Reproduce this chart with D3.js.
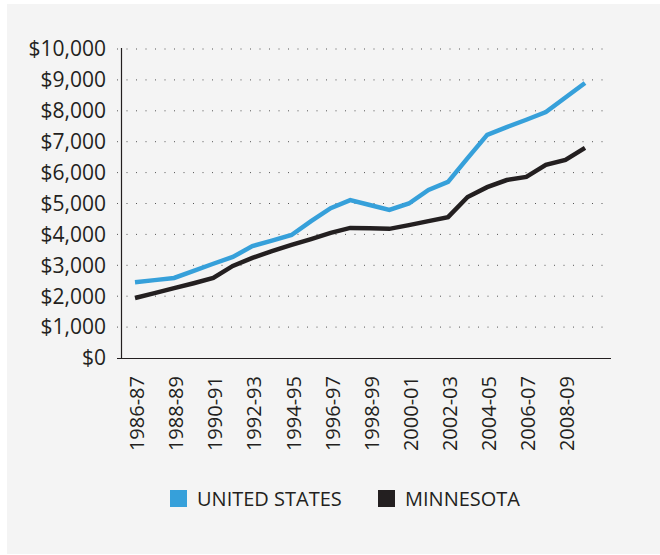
<!DOCTYPE html>
<html>
<head>
<meta charset="utf-8">
<script src="https://cdn.jsdelivr.net/npm/d3@7"></script>
<style>
  body { margin: 0; background: #fff; }
  text { font-family: "Open Sans", "DejaVu Sans", sans-serif; fill: #231f20; }
  .grid { stroke: #555; stroke-width: 1; stroke-dasharray: 1,8.5; }
  .axis-line { stroke: #231f20; stroke-width: 1.2; }
  .line { fill: none; stroke-width: 4.5; stroke-linejoin: miter; }
</style>
</head>
<body>
<script>

// school years on the x axis
var years = ["1986-87", "1987-88", "1988-89", "1989-90", "1990-91", "1991-92",
             "1992-93", "1993-94", "1994-95", "1995-96", "1996-97", "1997-98",
             "1998-99", "1999-00", "2000-01", "2001-02", "2002-03", "2003-04",
             "2004-05", "2005-06", "2006-07", "2007-08", "2008-09", "2009-10"];

// values (dollars)
var us_values = [2450, 2520, 2590, 2820, 3050, 3270, 3620, 3800, 3980, 4430, 4850, 5110,
                 4950, 4790, 5000, 5440, 5700, 6470, 7220, 7470, 7710, 7960, 8430, 8900];
var mn_values = [1940, 2100, 2260, 2420, 2590, 2980, 3240, 3460, 3660, 3850, 4050, 4210,
                 4200, 4180, 4300, 4430, 4560, 5210, 5530, 5760, 5860, 6250, 6410, 6800];

var y_ticks = [0, 1000, 2000, 3000, 4000, 5000, 6000, 7000, 8000, 9000, 10000];
var x_labels = ["1986-87", "1988-89", "1990-91", "1992-93", "1994-95", "1996-97",
                "1998-99", "2000-01", "2002-03", "2004-05", "2006-07", "2008-09"];

var series = [
    {name: "UNITED STATES", color: "#36a0da", values: us_values},
    {name: "MINNESOTA", color: "#231f20", values: mn_values}
];

var width = 660, height = 555;

var svg = d3.select("body").append("svg")
            .attr("width", width)
            .attr("height", height);

svg.append("rect")
   .attr("x", 7).attr("y", 4)
   .attr("width", 653).attr("height", 550)
   .attr("fill", "#f4f4f4");

var xScale = d3.scalePoint().domain(years).range([135, 585]);
var yScale = d3.scaleLinear().domain([0, 10000]).range([358, 49]);

// dotted gridlines
svg.selectAll(".grid")
   .data(y_ticks.filter(d => d > 0))
   .enter()
   .append("line")
   .attr("class", "grid")
   .attr("x1", 117)
   .attr("x2", 604)
   .attr("y1", d => yScale(d))
   .attr("y2", d => yScale(d));

// y axis labels
var fmt = d3.format(",");
svg.selectAll(".ytick")
   .data(y_ticks)
   .enter()
   .append("text")
   .attr("class", "ytick")
   .attr("x", 106)
   .attr("y", d => yScale(d))
   .attr("dy", "0.35em")
   .attr("text-anchor", "end")
   .style("font-size", "21px")
   .text(d => "$" + fmt(d));

// axis lines
svg.append("line")
   .attr("class", "axis-line")
   .attr("x1", 121.5).attr("x2", 121.5)
   .attr("y1", yScale(10000) - 1).attr("y2", yScale(0));
svg.append("line")
   .attr("class", "axis-line")
   .attr("x1", 117).attr("x2", 611)
   .attr("y1", yScale(0) + 0.5).attr("y2", yScale(0) + 0.5);

// x axis labels, rotated
svg.selectAll(".xtick")
   .data(x_labels)
   .enter()
   .append("text")
   .attr("class", "xtick")
   .attr("transform", d => "translate(" + (xScale(d) + 2) + ",376) rotate(-90)")
   .attr("dy", "0.35em")
   .attr("text-anchor", "end")
   .style("font-size", "20px")
   .text(d => d);

// lines
var line = d3.line()
             .x((d, i) => xScale(years[i]))
             .y(d => yScale(d));

svg.selectAll(".line")
   .data(series)
   .enter()
   .append("path")
   .attr("class", "line")
   .attr("stroke", d => d.color)
   .attr("d", d => line(d.values));

// legend
var legend_x = [170, 378];
var legend = svg.selectAll(".legend")
                .data(series)
                .enter()
                .append("g")
                .attr("class", "legend")
                .attr("transform", (d, i) => "translate(" + legend_x[i] + ",490)");

legend.append("rect")
      .attr("width", 17)
      .attr("height", 17)
      .attr("fill", d => d.color);

legend.append("text")
      .attr("x", 27)
      .attr("y", 16)
      .style("font-size", "20px")
      .text(d => d.name);

</script>
</body>
</html>
